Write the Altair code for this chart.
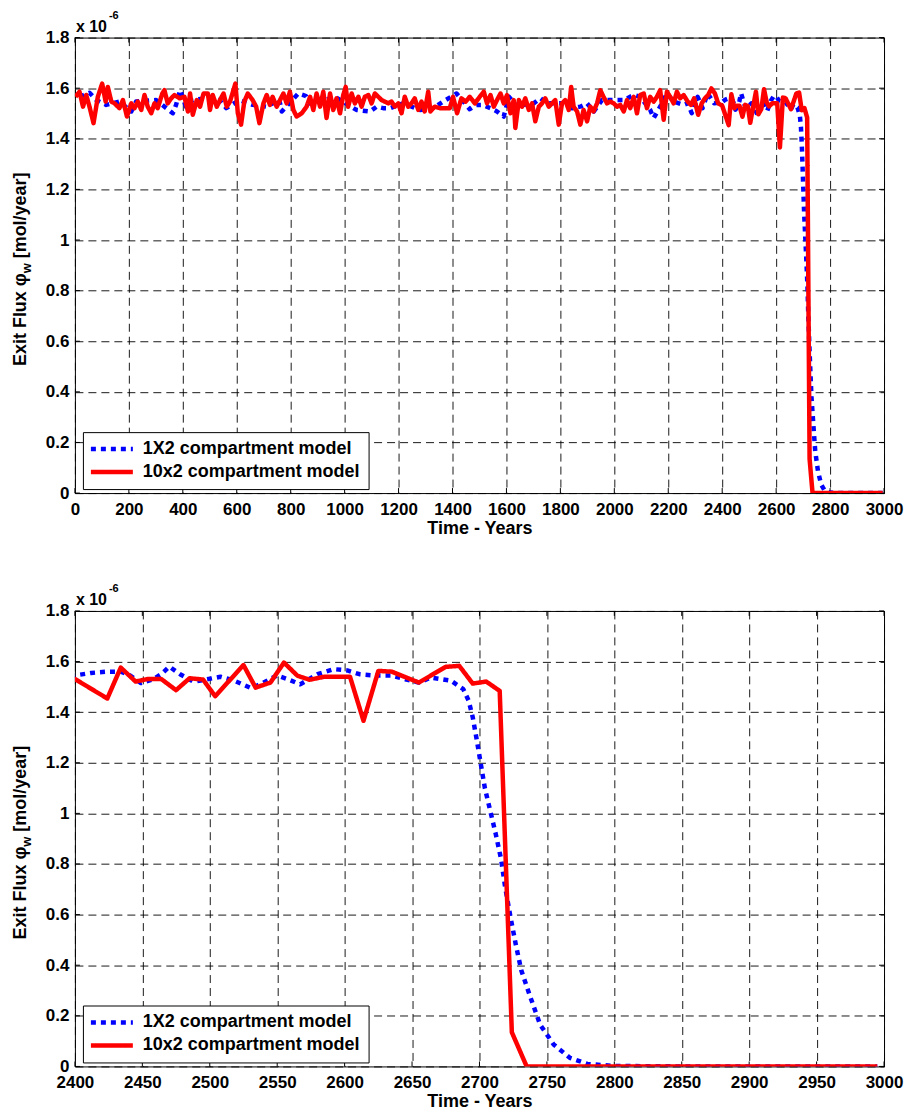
import altair as alt
import pandas as pd

# ---------------- data (values in units of 1e-6 mol/year) ----------------
series_names = ["1X2 compartment model", "10x2 compartment model"]
series_colors = ["#0000FF", "#FF0000"]
series_dash = [[5, 5], [1, 0]]

red_t = [2, 17, 30, 42, 54, 69, 85, 101, 114, 122, 135, 147, 165, 178, 193, 209, 221, 233, 246, 258,
         270, 283, 295, 307, 324, 332, 344, 357, 369, 388, 406, 419, 427, 437, 452, 464, 477, 493, 501, 511,
         526, 538, 551, 563, 575, 595, 604, 616, 628, 641, 659, 672, 684, 699, 711, 723, 733, 748,
         773, 785, 797, 810, 822, 841, 859, 872, 884, 896, 909, 921, 933, 946, 958, 970, 983, 995, 1004, 1013,
         1026, 1038, 1051, 1063, 1075, 1088, 1100, 1112, 1125, 1137, 1149, 1162, 1174, 1186, 1199, 1211, 1223, 1236, 1248, 1260,
         1273, 1285, 1297, 1310, 1318, 1334, 1353, 1372, 1390, 1402, 1417, 1433, 1449, 1464, 1483, 1501,
         1516, 1528, 1541, 1553, 1565, 1578, 1590, 1602, 1615, 1627, 1633, 1646, 1658, 1670, 1683, 1695, 1707, 1720, 1732, 1744,
         1757, 1769, 1781, 1794, 1806, 1818, 1831, 1840, 1849, 1862, 1874, 1886, 1899, 1911, 1923, 1936, 1948, 1960, 1973, 1985,
         1998, 2010, 2022, 2035, 2047, 2059, 2072, 2084, 2096, 2109, 2121, 2133, 2146, 2158, 2170, 2183, 2195, 2207, 2220, 2232,
         2244, 2257,
         2272, 2284, 2296, 2311, 2324, 2336, 2348, 2360, 2373, 2385,
         2400, 2424, 2434, 2445, 2454, 2464, 2475, 2485, 2495, 2504, 2525, 2534, 2545, 2555, 2565, 2574, 2585, 2604, 2614, 2625,
         2635, 2655, 2675, 2685, 2695, 2705, 2715, 2724, 2735, 2995]
red_v = [1.566, 1.586, 1.527, 1.573, 1.527, 1.462, 1.566, 1.618, 1.547, 1.605, 1.547, 1.540, 1.521, 1.553, 1.488, 1.540, 1.521, 1.547, 1.514, 1.573,
         1.527, 1.501, 1.540, 1.521, 1.579, 1.592, 1.540, 1.560, 1.573, 1.560, 1.566, 1.508, 1.579, 1.495, 1.553, 1.527, 1.579, 1.579, 1.514, 1.573,
         1.527, 1.553, 1.579, 1.527, 1.547, 1.618, 1.501, 1.456, 1.547, 1.579, 1.553, 1.527, 1.462, 1.540, 1.573, 1.534, 1.566, 1.527,
         1.579, 1.540, 1.586, 1.514, 1.488, 1.501, 1.527, 1.566, 1.514, 1.579, 1.527, 1.586, 1.482, 1.579, 1.514, 1.560, 1.501, 1.573, 1.605, 1.527,
         1.579, 1.540, 1.566, 1.527, 1.566, 1.573, 1.540, 1.579, 1.566, 1.553, 1.547, 1.540, 1.547, 1.527, 1.540, 1.501, 1.566, 1.527, 1.540, 1.560,
         1.514, 1.547, 1.508, 1.586, 1.508, 1.527, 1.521, 1.521, 1.521, 1.566, 1.501, 1.560, 1.547, 1.566, 1.540, 1.566,
         1.586, 1.540, 1.573, 1.527, 1.553, 1.579, 1.540, 1.573, 1.501, 1.553, 1.443, 1.553, 1.527, 1.560, 1.514, 1.540, 1.469, 1.527, 1.540, 1.560,
         1.527, 1.540, 1.553, 1.456, 1.540, 1.553, 1.514, 1.605, 1.527, 1.508, 1.456, 1.514, 1.469, 1.527, 1.508, 1.540, 1.592, 1.566, 1.540, 1.547,
         1.540, 1.527, 1.534, 1.508, 1.553, 1.521, 1.566, 1.501, 1.573, 1.579, 1.521, 1.566, 1.547, 1.566, 1.592, 1.475, 1.586, 1.566, 1.540, 1.586,
         1.560, 1.573,
         1.547, 1.534, 1.560, 1.495, 1.540, 1.560, 1.573, 1.599, 1.579, 1.540,
         1.531, 1.454, 1.576, 1.521, 1.531, 1.531, 1.487, 1.534, 1.529, 1.463, 1.586, 1.497, 1.517, 1.596, 1.544, 1.528, 1.540, 1.540, 1.366, 1.563,
         1.560, 1.517, 1.579, 1.583, 1.513, 1.521, 1.484, 0.135, 0.0, 0.0]

blue_t = [17, 54, 79, 116, 165, 209, 227, 301, 363, 375, 390, 412, 437, 486, 536, 561, 610, 659, 709, 758,
          767, 828, 857, 872, 909, 964, 1044, 1094, 1119, 1143, 1168, 1217, 1279, 1328, 1365, 1415, 1464, 1489,
          1510, 1541, 1565, 1590, 1609, 1640, 1664, 1701, 1726, 1751, 1800, 1843, 1874, 1899, 1924, 1954, 1998, 2035,
          2072, 2096, 2133, 2146, 2170, 2195, 2220, 2257,
          2272, 2287, 2309, 2327, 2346, 2370,
          2400, 2412, 2424, 2434, 2441, 2449, 2458, 2464, 2470, 2478, 2488, 2498, 2508, 2518, 2531, 2541, 2550, 2558, 2567, 2580,
          2592, 2602, 2611, 2622, 2635, 2645, 2655, 2664, 2679, 2688, 2692, 2695, 2698, 2701, 2704, 2708, 2712, 2716, 2719, 2723,
          2727, 2731, 2738, 2745, 2755, 2767, 2780, 2799, 2850, 2995]
blue_v = [1.566, 1.582, 1.553, 1.534, 1.547, 1.508, 1.547, 1.553, 1.501, 1.534, 1.592, 1.527, 1.553, 1.560, 1.553, 1.521, 1.553, 1.534, 1.527, 1.553,
          1.508, 1.579, 1.569, 1.540, 1.547, 1.566, 1.514, 1.508, 1.527, 1.521, 1.521, 1.540, 1.514, 1.521, 1.547, 1.579, 1.517, 1.534,
          1.534, 1.521, 1.508, 1.488, 1.566, 1.527, 1.534, 1.540, 1.560, 1.540, 1.540, 1.521, 1.527, 1.540, 1.508, 1.553, 1.553, 1.553,
          1.573, 1.566, 1.514, 1.482, 1.527, 1.579, 1.547, 1.534,
          1.540, 1.501, 1.566, 1.521, 1.579, 1.540,
          1.545, 1.555, 1.560, 1.560, 1.545, 1.515, 1.530, 1.550, 1.580, 1.550, 1.520, 1.530, 1.540, 1.525, 1.494, 1.520, 1.545, 1.530, 1.510, 1.550,
          1.570, 1.565, 1.550, 1.545, 1.545, 1.530, 1.517, 1.537, 1.524, 1.491, 1.445, 1.380, 1.290, 1.195, 1.100, 1.010, 0.920, 0.820, 0.710, 0.590,
          0.480, 0.380, 0.270, 0.165, 0.087, 0.034, 0.010, 0.002, 0.0, 0.0]

x_ticks_top = list(range(0, 3001, 200))
x_ticks_bottom = list(range(2400, 3001, 50))
y_ticks = [0, 0.2, 0.4, 0.6, 0.8, 1.0, 1.2, 1.4, 1.6, 1.8]

x_title = "Time - Years"
y_title_parts = ["Exit Flux \u03c6", "w", "[mol/year]"]
exp_base, exp_power = "x 10", "-6"

df = pd.concat([
    pd.DataFrame({"t": blue_t, "v": blue_v, "series": series_names[0]}),
    pd.DataFrame({"t": red_t, "v": red_v, "series": series_names[1]}),
], ignore_index=True)

# ---------------- styling ----------------
W, H = 810, 456
FONT = "Liberation Sans"
one = pd.DataFrame({"a": [0]})


def panel(x_domain, x_ticks):
    xs = alt.Scale(domain=x_domain, nice=False, zero=False)
    ys = alt.Scale(domain=[0, 1.8], nice=False, zero=True)
    x_axis = alt.Axis(values=x_ticks, title=x_title, format="d", grid=True, gridDash=[8, 5],
                      gridColor="black", gridOpacity=0.9, domain=False, ticks=False, tickSize=0,
                      labelPadding=8, titlePadding=2, labelFont=FONT, labelFontSize=17,
                      labelFontWeight="bold", labelColor="black", titleFont=FONT, titleFontSize=18,
                      titleFontWeight="bold", titleColor="black", labelOverlap=False,
                      labelFlush=False, labelBound=False)
    y_axis = alt.Axis(values=y_ticks, title=None, format=".1~f", grid=True, gridDash=[8, 5],
                      gridColor="black", gridOpacity=0.9, domain=False, ticks=False, tickSize=0,
                      labelPadding=6, labelFont=FONT, labelFontSize=17, labelFontWeight="bold",
                      labelColor="black", labelOverlap=False, labelFlush=False, labelBound=False)
    x_enc = alt.X("t:Q", scale=xs, axis=x_axis)
    y_enc = alt.Y("v:Q", scale=ys, axis=y_axis)

    legend = alt.Legend(title=None, orient="none", legendX=8, legendY=395, fillColor="white",
                        strokeColor="black", padding=8, symbolType="M-4.5,0H16.5", symbolSize=16,
                        symbolStrokeWidth=4.5, labelOffset=34, labelFont=FONT, labelFontSize=18,
                        labelFontWeight="bold", labelColor="black", labelLimit=400, rowPadding=5)

    lines = alt.Chart(df).mark_line(strokeWidth=4.5, clip=True, strokeJoin="round").encode(
        x=x_enc, y=y_enc,
        color=alt.Color("series:N", scale=alt.Scale(domain=series_names, range=series_colors),
                        legend=legend, sort=series_names),
        strokeDash=alt.StrokeDash("series:N", scale=alt.Scale(domain=series_names, range=series_dash),
                                  legend=legend, sort=series_names),
    )

    xt = pd.DataFrame({"t": x_ticks})
    yt = pd.DataFrame({"v": y_ticks})
    rule = dict(color="black", strokeWidth=1)
    xt_bot = alt.Chart(xt).mark_rule(**rule).encode(x=x_enc, y=alt.value(H), y2=alt.value(H - 5))
    xt_top = alt.Chart(xt).mark_rule(**rule).encode(x=x_enc, y=alt.value(0), y2=alt.value(5))
    yt_l = alt.Chart(yt).mark_rule(**rule).encode(y=y_enc, x=alt.value(0), x2=alt.value(5))
    yt_r = alt.Chart(yt).mark_rule(**rule).encode(y=y_enc, x=alt.value(W), x2=alt.value(W - 5))

    txt = dict(font=FONT, fontWeight="bold", color="black")
    e1 = alt.Chart(one).mark_text(text=exp_base, fontSize=16, align="left", baseline="alphabetic", **txt).encode(
        x=alt.value(1), y=alt.value(-6))
    e2 = alt.Chart(one).mark_text(text=exp_power, fontSize=11, align="left", baseline="alphabetic", **txt).encode(
        x=alt.value(34), y=alt.value(-19))

    py = 236
    t1 = alt.Chart(one).mark_text(text=y_title_parts[0], fontSize=18, angle=270, align="right",
                                  baseline="alphabetic", **txt).encode(x=alt.value(-49), y=alt.value(py))
    t2 = alt.Chart(one).mark_text(text=y_title_parts[1], fontSize=13, angle=270, align="left",
                                  baseline="alphabetic", dy=5, **txt).encode(x=alt.value(-49), y=alt.value(py))
    t3 = alt.Chart(one).mark_text(text=y_title_parts[2], fontSize=18, angle=270, align="left",
                                  baseline="alphabetic", dx=15, **txt).encode(x=alt.value(-49), y=alt.value(py))

    return alt.layer(xt_bot, xt_top, yt_l, yt_r, lines, e1, e2, t1, t2, t3).properties(width=W, height=H)


top = panel([0, 3000], x_ticks_top)
bottom = panel([2400, 3000], x_ticks_bottom)

chart = alt.vconcat(top, bottom, spacing=44).resolve_scale(
    x="independent", y="independent", color="independent", strokeDash="independent"
).resolve_legend(color="independent", strokeDash="independent").properties(
    padding={"left": 11, "top": 8, "right": 2, "bottom": 2}, background="white"
).configure_view(stroke="black", strokeWidth=1)

chart.save("out.html", embed_options={"renderer": "svg", "actions": False})
